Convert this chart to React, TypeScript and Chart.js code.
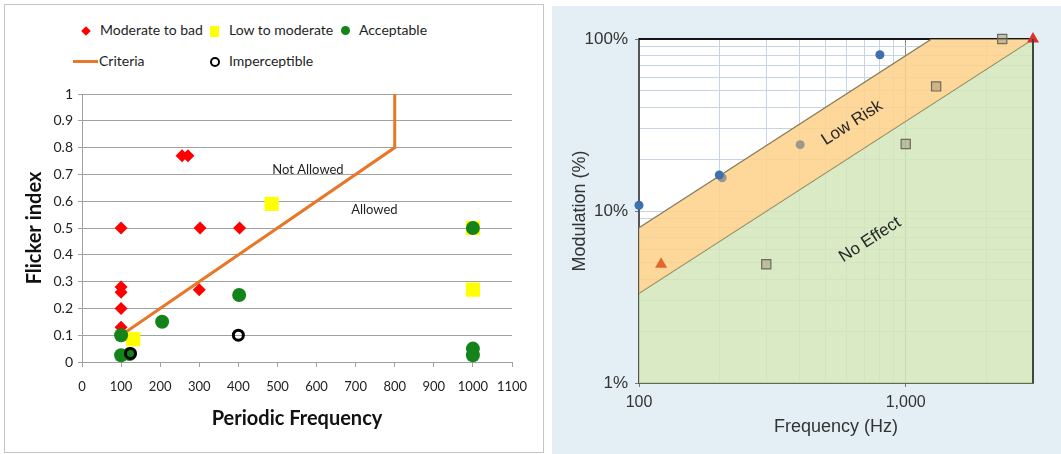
import React, { useEffect, useRef } from "react";
import { Chart, registerables } from "chart.js";

Chart.register(...registerables);

// ---------- Left chart: Flicker index vs Periodic Frequency ----------
const leftXTicks = [0, 100, 200, 300, 400, 500, 600, 700, 800, 900, 1000, 1100];
const leftXLabels = ["0", "100", "200", "300", "400", "500", "600", "700", "800", "900", "1000", "1100"];
const leftYTicks = [0, 0.1, 0.2, 0.3, 0.4, 0.5, 0.6, 0.7, 0.8, 0.9, 1];
const leftYLabels = ["0", "0.1", "0.2", "0.3", "0.4", "0.5", "0.6", "0.7", "0.8", "0.9", "1"];

const moderateToBad = [
  { x: 100, y: 0.5 },
  { x: 100, y: 0.28 },
  { x: 100, y: 0.26 },
  { x: 100, y: 0.2 },
  { x: 100, y: 0.13 },
  { x: 256, y: 0.77 },
  { x: 271, y: 0.77 },
  { x: 302, y: 0.5 },
  { x: 300, y: 0.27 },
  { x: 403, y: 0.5 },
];
const lowToModerate = [
  { x: 485, y: 0.59 },
  { x: 1000, y: 0.5 },
  { x: 1000, y: 0.27 },
  { x: 131, y: 0.085 },
];
const acceptable = [
  { x: 100, y: 0.1 },
  { x: 100, y: 0.025 },
  { x: 122, y: 0.03 },
  { x: 205, y: 0.15 },
  { x: 402, y: 0.25 },
  { x: 1000, y: 0.5 },
  { x: 1000, y: 0.05 },
  { x: 1000, y: 0.025 },
];
const imperceptible = [
  { x: 124, y: 0.032 },
  { x: 400, y: 0.1 },
];
const criteria = [
  { x: 100, y: 0.1 },
  { x: 800, y: 0.8 },
  { x: 800, y: 1 },
];
const leftRegionLabels = [
  { text: "Not Allowed", x: 578, y: 0.716 },
  { text: "Allowed", x: 748, y: 0.567 },
];

// ---------- Right chart: Modulation (%) vs Frequency (Hz) ----------
const rightXTicks = [100, 200, 300, 400, 500, 600, 700, 800, 900, 1000, 2000, 3000];
const rightXLabels = ["100", "", "", "", "", "", "", "", "", "1,000", "", ""];
const rightYTicks = [1, 2, 3, 4, 5, 6, 7, 8, 9, 10, 20, 30, 40, 50, 60, 70, 80, 90, 100];
const rightYLabels = ["1%", "", "", "", "", "", "", "", "", "10%", "", "", "", "", "", "", "", "", "100%"];

const blueTests = [
  { x: 100, y: 10.8 },
  { x: 200, y: 16.2 },
  { x: 800, y: 81 },
];
const grayTests = [
  { x: 205, y: 15.6 },
  { x: 402, y: 24.3 },
];
const squareTests = [
  { x: 300, y: 4.9 },
  { x: 1000, y: 24.5 },
  { x: 1300, y: 53 },
  { x: 2300, y: 100 },
];
const triangleTests = [
  { x: 121, y: 4.9 },
  { x: 3000, y: 100 },
];
const lowRiskBoundary = [
  { x: 100, y: 8 },
  { x: 1250, y: 100 },
  { x: 3000, y: 100 },
];
const noEffectBoundary = [
  { x: 100, y: 3.33 },
  { x: 3000, y: 100 },
];
const rightRegionLabels = [
  { text: "Low Risk", x: 630, y: 32.5 },
  { text: "No Effect", x: 735, y: 6.8 },
];

const leftPlugin = {
  id: "leftRegionLabels",
  afterDatasetsDraw(chart: any) {
    const { ctx, scales } = chart;
    ctx.save();
    ctx.font = "13px Lato";
    ctx.fillStyle = "#1e1e1e";
    ctx.textAlign = "center";
    ctx.textBaseline = "middle";
    leftRegionLabels.forEach((l) => {
      ctx.fillText(l.text, scales.x.getPixelForValue(l.x), scales.y.getPixelForValue(l.y));
    });
    ctx.restore();
  },
};

const rightPlugin = {
  id: "rightFrame",
  beforeDraw(chart: any) {
    const { ctx, chartArea: a } = chart;
    ctx.save();
    ctx.fillStyle = "#ffffff";
    ctx.fillRect(a.left, a.top, a.right - a.left, a.bottom - a.top);
    ctx.restore();
  },
  beforeDatasetsDraw(chart: any) {
    const { ctx, chartArea: a } = chart;
    ctx.save();
    ctx.strokeStyle = "#151515";
    ctx.lineWidth = 2;
    ctx.beginPath();
    ctx.moveTo(a.left, a.top);
    ctx.lineTo(a.right, a.top);
    ctx.stroke();
    ctx.restore();
  },
  afterDatasetsDraw(chart: any) {
    const { ctx, chartArea: a, scales } = chart;
    ctx.save();
    ctx.strokeStyle = "#3e4a3c";
    ctx.lineWidth = 2;
    ctx.beginPath();
    ctx.moveTo(a.right, a.top);
    ctx.lineTo(a.right, a.bottom);
    ctx.stroke();
    const p0x = scales.x.getPixelForValue(noEffectBoundary[0].x);
    const p0y = scales.y.getPixelForValue(noEffectBoundary[0].y);
    const p1x = scales.x.getPixelForValue(noEffectBoundary[1].x);
    const p1y = scales.y.getPixelForValue(noEffectBoundary[1].y);
    const angle = Math.atan2(p1y - p0y, p1x - p0x);
    ctx.font = "17px 'Liberation Sans'";
    ctx.fillStyle = "#262626";
    ctx.textAlign = "center";
    ctx.textBaseline = "middle";
    rightRegionLabels.forEach((l) => {
      ctx.save();
      ctx.translate(scales.x.getPixelForValue(l.x), scales.y.getPixelForValue(l.y));
      ctx.rotate(angle);
      ctx.fillText(l.text, 0, 0);
      ctx.restore();
    });
    ctx.restore();
  },
};

export default function App() {
  const leftRef = useRef<HTMLCanvasElement>(null);
  const rightRef = useRef<HTMLCanvasElement>(null);

  useEffect(() => {
    const lato = "Lato";
    const left = new Chart(leftRef.current as HTMLCanvasElement, {
      type: "scatter",
      data: {
        datasets: [
          {
            label: "Imperceptible",
            data: imperceptible,
            pointStyle: "circle",
            pointRadius: 5,
            pointBorderWidth: 3,
            pointBorderColor: "#000",
            pointBackgroundColor: "rgba(0,0,0,0)",
            clip: false,
          } as any,
          {
            label: "Acceptable",
            data: acceptable,
            pointStyle: "circle",
            pointRadius: 7,
            pointBorderWidth: 0,
            pointBackgroundColor: "#14841a",
            clip: false,
          },
          {
            label: "Low to moderate",
            data: lowToModerate,
            pointStyle: "rect",
            pointRadius: 10,
            pointBorderWidth: 0,
            pointBackgroundColor: "#ffff00",
            clip: false,
          },
          {
            label: "Moderate to bad",
            data: moderateToBad,
            pointStyle: "rectRot",
            pointRadius: 6.5,
            pointBorderWidth: 0,
            pointBackgroundColor: "#ff0000",
            clip: false,
          },
          {
            label: "Criteria",
            data: criteria,
            showLine: true,
            borderColor: "#e8772a",
            borderWidth: 3,
            pointRadius: 0,
            fill: false,
          },
        ],
      },
      options: {
        responsive: false,
        animation: false,
        devicePixelRatio: 1,
        layout: { padding: { left: 19, top: 94, right: 33, bottom: 19 } },
        plugins: { legend: { display: false }, tooltip: { enabled: false } },
        scales: {
          x: {
            type: "linear",
            min: leftXTicks[0],
            max: leftXTicks[leftXTicks.length - 1],
            afterBuildTicks: (s: any) => {
              s.ticks = leftXTicks.map((v) => ({ value: v }));
            },
            afterFit: (s: any) => {
              s.height = 73;
            },
            ticks: {
              autoSkip: false,
              maxRotation: 0,
              padding: 12,
              color: "#222",
              font: { family: lato, size: 13 },
              callback: (_v: any, i: number) => leftXLabels[i],
            },
            grid: { drawOnChartArea: false, drawTicks: true, tickLength: 5, color: "#a0a0a0" },
            border: { color: "#a0a0a0", width: 1 },
            title: {
              display: true,
              text: "Periodic Frequency",
              color: "#111",
              font: { family: lato, size: 20, weight: "bold" },
              padding: { top: 4, bottom: 4 },
            },
          },
          y: {
            type: "linear",
            min: leftYTicks[0],
            max: leftYTicks[leftYTicks.length - 1],
            afterBuildTicks: (s: any) => {
              s.ticks = leftYTicks.map((v) => ({ value: v }));
            },
            afterFit: (s: any) => {
              s.width = 63;
            },
            ticks: {
              autoSkip: false,
              padding: 5,
              color: "#222",
              font: { family: lato, size: 14 },
              callback: (_v: any, i: number) => leftYLabels[i],
            },
            grid: { color: "#a0a0a0", lineWidth: 1, tickLength: 4 },
            border: { color: "#a0a0a0", width: 1 },
            title: {
              display: true,
              text: "Flicker index",
              color: "#111",
              font: { family: lato, size: 20, weight: "bold" },
              padding: { top: 4, bottom: 4 },
            },
          },
        },
      },
      plugins: [leftPlugin],
    } as any);

    const helv = "'Liberation Sans'";
    const right = new Chart(rightRef.current as HTMLCanvasElement, {
      type: "scatter",
      data: {
        datasets: [
          {
            label: "Triangles",
            data: triangleTests,
            pointStyle: "triangle",
            pointRadius: 7,
            pointBorderWidth: 0,
            pointBackgroundColor: ["#e2672c", "#e0302c"],
            clip: false,
          } as any,
          {
            label: "Blue",
            data: blueTests,
            pointStyle: "circle",
            pointRadius: 4.5,
            pointBorderWidth: 0,
            pointBackgroundColor: "#3e6fae",
            clip: false,
          },
          {
            label: "Gray",
            data: grayTests,
            pointStyle: "circle",
            pointRadius: 4.5,
            pointBorderWidth: 0,
            pointBackgroundColor: "#9b978c",
            clip: false,
          },
          {
            label: "Squares",
            data: squareTests,
            pointStyle: "rect",
            pointRadius: 6.5,
            pointBorderWidth: 1.2,
            pointBorderColor: "#6b6b62",
            pointBackgroundColor: "rgba(150,140,110,0.45)",
            clip: false,
          },
          {
            label: "Low Risk boundary",
            data: lowRiskBoundary,
            showLine: true,
            borderColor: "#867b58",
            borderWidth: 1.3,
            pointRadius: 0,
            fill: { target: "+1" },
            backgroundColor: "rgba(253,209,136,0.85)",
          },
          {
            label: "No Effect boundary",
            data: noEffectBoundary,
            showLine: true,
            borderColor: "#6f7455",
            borderWidth: 1.3,
            pointRadius: 0,
            fill: { target: "start" },
            backgroundColor: "rgba(210,230,187,0.85)",
          },
        ],
      },
      options: {
        responsive: false,
        animation: false,
        devicePixelRatio: 1,
        layout: { padding: { left: 13, top: 33, right: 28, bottom: 12 } },
        plugins: { legend: { display: false }, tooltip: { enabled: false } },
        scales: {
          x: {
            type: "logarithmic",
            min: rightXTicks[0],
            max: rightXTicks[rightXTicks.length - 1],
            afterBuildTicks: (s: any) => {
              s.ticks = rightXTicks.map((v) => ({ value: v }));
            },
            afterFit: (s: any) => {
              s.height = 59;
            },
            ticks: {
              autoSkip: false,
              maxRotation: 0,
              padding: 6,
              color: "#333",
              font: { family: helv, size: 16 },
              callback: (_v: any, i: number) => rightXLabels[i],
            },
            grid: {
              color: (c: any) => (c.tick && c.tick.value === 1000 ? "rgba(100,120,90,0.8)" : "#c6d3ea"),
              tickColor: (c: any) => (c.tick && rightXLabels[c.index] ? "#777" : "rgba(0,0,0,0)"),
              tickLength: 4,
              lineWidth: 1,
            },
            border: { color: "#5d6b55", width: 2 },
            title: {
              display: true,
              text: "Frequency (Hz)",
              color: "#333",
              font: { family: helv, size: 18 },
              padding: { top: 4, bottom: 4 },
            },
          },
          y: {
            type: "logarithmic",
            min: rightYTicks[0],
            max: rightYTicks[rightYTicks.length - 1],
            afterBuildTicks: (s: any) => {
              s.ticks = rightYTicks.map((v) => ({ value: v }));
            },
            afterFit: (s: any) => {
              s.width = 74;
            },
            ticks: {
              autoSkip: false,
              padding: 7,
              color: "#333",
              font: { family: helv, size: 17 },
              callback: (_v: any, i: number) => rightYLabels[i],
            },
            grid: {
              color: "#c6d3ea",
              tickColor: (c: any) => (c.tick && rightYLabels[c.index] ? "#777" : "rgba(0,0,0,0)"),
              tickLength: 4,
              lineWidth: 1,
            },
            border: { color: "#555", width: 2 },
            title: {
              display: true,
              text: "Modulation (%)",
              color: "#333",
              font: { family: helv, size: 18 },
              padding: { top: 4, bottom: 4 },
            },
          },
        },
      },
      plugins: [rightPlugin],
    } as any);

    return () => {
      left.destroy();
      right.destroy();
    };
  }, []);

  const txt: React.CSSProperties = {
    position: "absolute",
    fontFamily: "Lato",
    fontSize: 14,
    color: "#1e1e1e",
    lineHeight: "18px",
    whiteSpace: "nowrap",
  };

  return (
    <div style={{ position: "absolute", left: 0, top: 0, width: 1061, height: 454, background: "#fff", overflow: "hidden" }}>
      <div style={{ position: "absolute", left: 4, top: 4, width: 538, height: 447, border: "1px solid #c4c4c4" }} />
      {/* legend row 1 */}
      <div style={{ position: "absolute", left: 82, top: 27, width: 8, height: 8, background: "#ff0000", transform: "rotate(45deg) scale(0.85)" }} />
      <div style={{ ...txt, left: 100, top: 21 }}>Moderate to bad</div>
      <div style={{ position: "absolute", left: 210, top: 26, width: 9, height: 11, background: "#ffff00" }} />
      <div style={{ ...txt, left: 229, top: 21 }}>Low to moderate</div>
      <div style={{ position: "absolute", left: 341, top: 26, width: 9, height: 9, borderRadius: "50%", background: "#14841a" }} />
      <div style={{ ...txt, left: 359, top: 21 }}>Acceptable</div>
      {/* legend row 2 */}
      <div style={{ position: "absolute", left: 73, top: 60, width: 25, height: 3, background: "#e8772a" }} />
      <div style={{ ...txt, left: 99, top: 52 }}>Criteria</div>
      <div style={{ position: "absolute", left: 210, top: 57, width: 6, height: 6, borderRadius: "50%", border: "2.5px solid #000" }} />
      <div style={{ ...txt, left: 229, top: 52 }}>Imperceptible</div>
      <canvas ref={leftRef} width={545} height={454} style={{ position: "absolute", left: 0, top: 0, width: 545, height: 454 }} />
      <div style={{ position: "absolute", left: 552, top: 6, width: 509, height: 448, background: "#e3eff5" }} />
      <canvas ref={rightRef} width={509} height={448} style={{ position: "absolute", left: 552, top: 6, width: 509, height: 448 }} />
    </div>
  );
}
